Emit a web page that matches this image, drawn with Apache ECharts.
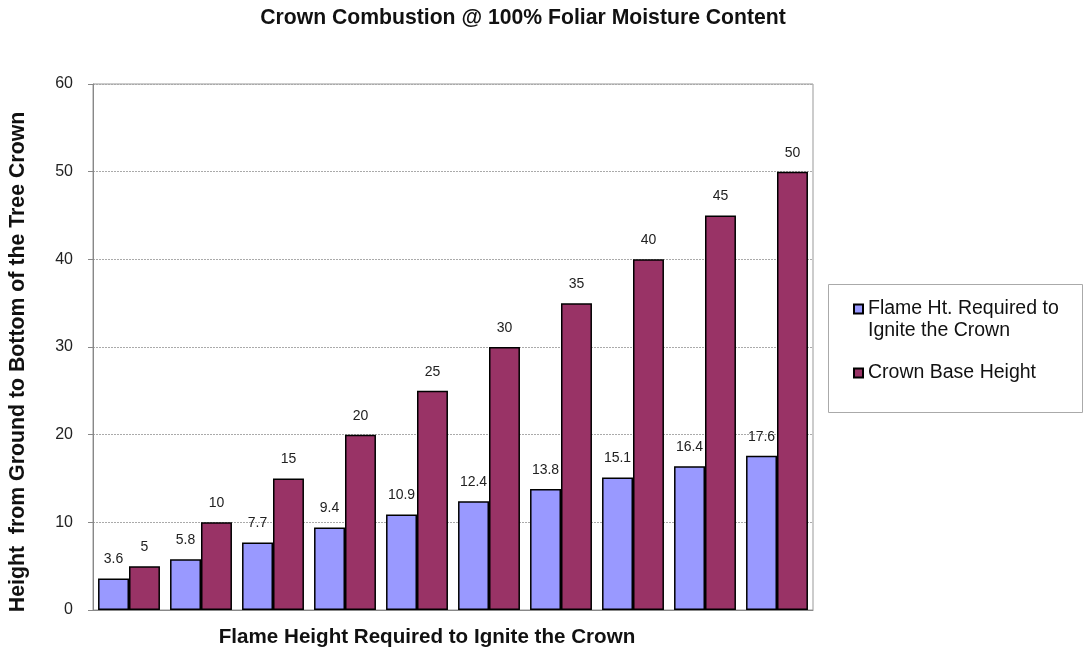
<!DOCTYPE html>
<html>
<head>
<meta charset="utf-8">
<script src="https://cdn.jsdelivr.net/npm/echarts@6/dist/echarts.min.js"></script>
<style>
  html, body { margin: 0; padding: 0; background: #fff; }
  #chart { width: 1083px; height: 650px; }
</style>
</head>
<body>
<div id="chart"></div>
<script>
// Crown base heights and the flame heights needed to reach them (ft)
const categories = ['1', '2', '3', '4', '5', '6', '7', '8', '9', '10'];
const flameHeight = [3.6, 5.8, 7.7, 9.4, 10.9, 12.4, 13.8, 15.1, 16.4, 17.6];
const crownBaseHeight = [5, 10, 15, 20, 25, 30, 35, 40, 45, 50];
const yTicks = [0, 10, 20, 30, 40, 50, 60];
const seriesNames = ['Flame Ht. Required to\nIgnite the Crown', 'Crown Base Height'];

const FONT = 'Liberation Sans, Arial, sans-serif';

const chart = echarts.init(document.getElementById('chart'));

const labelStyle = {
  show: true,
  position: 'top',
  distance: 12,
  color: '#222',
  fontSize: 14,
  fontFamily: FONT
};

chart.setOption({
  animation: false,
  backgroundColor: '#fff',
  title: {
    text: 'Crown Combustion @ 100% Foliar Moisture Content',
    left: 518,
    textAlign: 'center',
    top: 3,
    textStyle: { fontFamily: FONT, fontSize: 21.2, fontWeight: 'bold', color: '#111' }
  },
  // legend frame
  graphic: [{
    type: 'rect',
    left: 828,
    top: 284,
    shape: { width: 254, height: 128 },
    style: { fill: '#fff', stroke: '#aaa', lineWidth: 1 },
    z: -1
  }],
  legend: {
    orient: 'vertical',
    left: 853,
    top: 276,
    padding: 0,
    itemGap: 20,
    itemWidth: 9,
    itemHeight: 9,
    icon: 'rect',
    // empty leading line keeps the swatch level with the first text line
    formatter: name => (name.indexOf('\n') >= 0 ? '\n' + name : name),
    textStyle: { fontFamily: FONT, fontSize: 19.5, color: '#111', lineHeight: 22 },
    data: seriesNames
  },
  grid: {
    left: 93,
    right: 270,
    top: 84,
    bottom: 40,
    show: true,
    borderColor: '#999',
    borderWidth: 1,
    outerBoundsMode: 'none',
    containLabel: false
  },
  xAxis: {
    type: 'category',
    data: categories,
    name: 'Flame Height Required to Ignite the Crown',
    nameLocation: 'middle',
    nameGap: 17,
    nameTextStyle: { fontFamily: FONT, fontSize: 20.6, fontWeight: 'bold', color: '#111', padding: [0, 52, 0, 0] },
    axisLine: { lineStyle: { color: '#888' } },
    axisTick: { show: false },
    axisLabel: { show: false }
  },
  yAxis: {
    type: 'value',
    min: yTicks[0],
    max: yTicks[yTicks.length - 1],
    interval: 10,
    name: 'Height  from Ground to Bottom of the Tree Crown',
    nameLocation: 'middle',
    nameGap: 64,
    nameTextStyle: { fontFamily: FONT, fontSize: 21.3, fontWeight: 'bold', color: '#111', padding: [0, 30, 0, 0] },
    axisLine: { show: true, lineStyle: { color: '#888' } },
    axisTick: { show: true, length: 5, lineStyle: { color: '#888' } },
    axisLabel: { fontFamily: FONT, fontSize: 16, color: '#222', margin: 20 },
    splitLine: { lineStyle: { color: '#aaa', type: [2, 1] } }
  },
  series: [
    {
      name: seriesNames[0],
      type: 'bar',
      data: flameHeight,
      barGap: '0%',
      barCategoryGap: '14%',
      itemStyle: { color: '#9999FF', borderColor: '#000', borderWidth: 1.5 },
      label: labelStyle
    },
    {
      name: seriesNames[1],
      type: 'bar',
      data: crownBaseHeight,
      barGap: '0%',
      barCategoryGap: '14%',
      itemStyle: { color: '#993366', borderColor: '#000', borderWidth: 1.5 },
      label: labelStyle
    }
  ]
});
</script>
</body>
</html>
